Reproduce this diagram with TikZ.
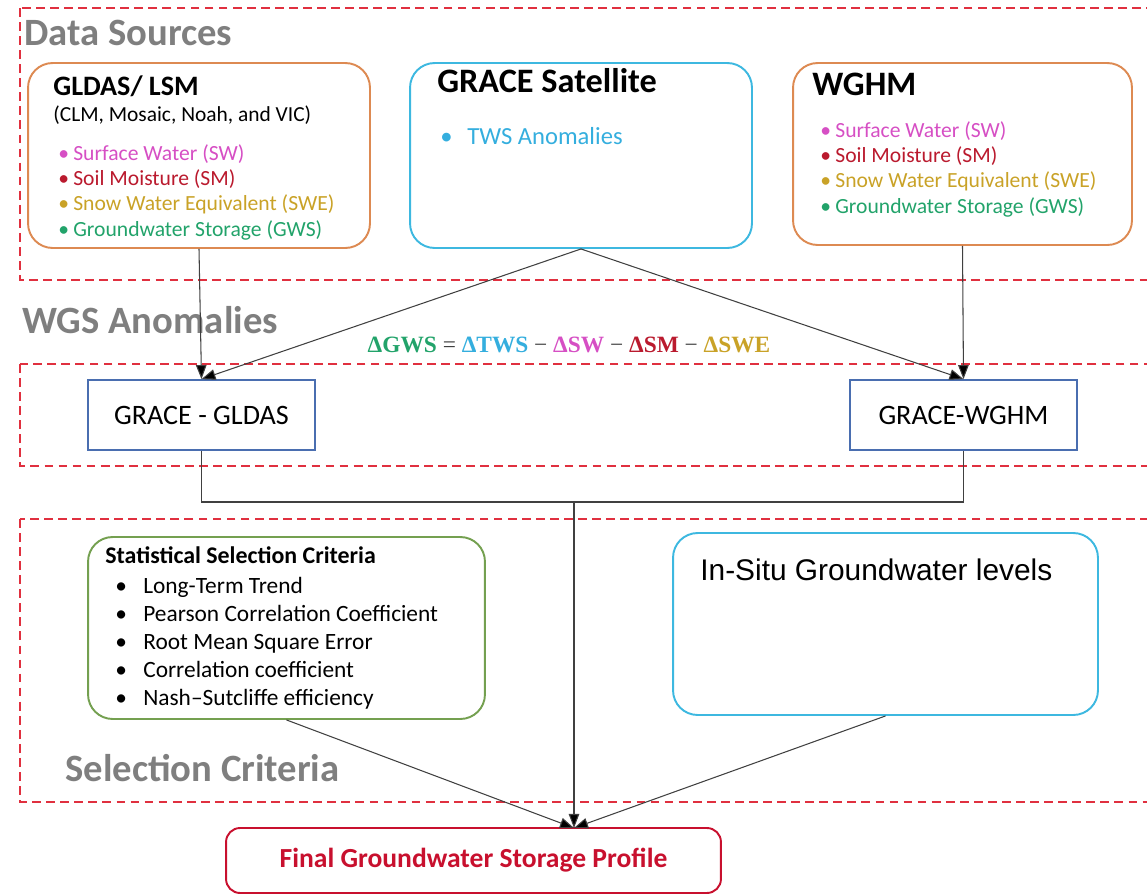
\documentclass[tikz,border=0pt]{standalone}
\usepackage{fontspec}
\setmainfont{Carlito}
\newfontfamily\arialfont{Liberation Sans}
\newfontfamily\eqfont{Liberation Serif}
\usepackage{amsmath}
\usetikzlibrary{shapes, arrows.meta, positioning}
\definecolor{dashred}{HTML}{E0303F}
\definecolor{labelgray}{HTML}{7F7F7F}
\definecolor{orng}{HTML}{DD8A52}
\definecolor{skyb}{HTML}{3DB8E0}
\definecolor{boxblue}{HTML}{4A6EB0}
\definecolor{grn}{HTML}{74A050}
\definecolor{finred}{HTML}{C8102E}
\definecolor{linegray}{HTML}{404040}
\definecolor{cSW}{HTML}{D64FC4}
\definecolor{cSM}{HTML}{BA1A2E}
\definecolor{cSWE}{HTML}{C9A227}
\definecolor{cGWS}{HTML}{22A36A}
\definecolor{cTWS}{HTML}{34AEDE}
\newcommand{\bul}[1]{\makebox[#1][l]{\textbullet}}
\newcommand{\dq}[2]{\textcolor{#1}{\bfseries Δ#2}}
\tikzstyle{zone} = [draw=dashred, line width=1.1pt, dash pattern=on 5pt off 3pt]
\tikzstyle{zlabel} = [anchor=base west, inner sep=0pt, text=labelgray, font=\fontsize{22}{24}\selectfont\bfseries]
\tikzstyle{src} = [rectangle, draw, line width=1.1pt, rounded corners=14pt]
\tikzstyle{diff} = [rectangle, draw=boxblue, line width=1pt, minimum width=4.54cm, minimum height=1.4cm, font=\fontsize{16}{18}\selectfont]
\tikzstyle{txt} = [anchor=base west, inner sep=0pt, align=left]
\tikzstyle{line} = [draw=linegray, line width=0.6pt, -{Triangle[length=8pt, width=6pt, fill=black]}]
\tikzstyle{link} = [draw=linegray, line width=0.6pt]

\begin{document}
\begin{tikzpicture}[x=0.02cm, y=-0.02cm]
  \useasboundingbox (0,0) rectangle (1147,896);
  \clip (0,0) rectangle (1147,896);
  % dashed zones
  \draw[zone] (20,8) rectangle (1180,280);
  \draw[zone] (20,364) rectangle (1180,466);
  \draw[zone] (20,519) rectangle (1180,802);
  \node (l1) [zlabel] at (24,45) {Data Sources};
  \node (l2) [zlabel] at (22,333) {WGS Anomalies};
  \node (l3) [zlabel] at (65,781) {Selection Criteria};

  % data sources
  \node (s1) [src, draw=orng, minimum width=6.84cm, minimum height=3.7cm] at (199,155.5) {};
  \node (s2) [src, draw=skyb, minimum width=6.84cm, minimum height=3.7cm] at (581,155.5) {};
  \node (s3) [src, draw=orng, minimum width=6.78cm, minimum height=3.64cm] at (962.5,154) {};
  \node (s1t) [txt, font=\fontsize{16}{18}\selectfont\bfseries] at (53,95) {GLDAS/ LSM};
  \node (s1s) [txt, font=\fontsize{12.2}{14}\selectfont] at (53,121) {(CLM, Mosaic, Noah, and VIC)};
  \node (s1l) [txt, font=\fontsize{12.3}{14.3}\selectfont] at (58,236) {%
    \textcolor{cSW}{\bul{0.3cm}Surface Water (SW)}\\
    \textcolor{cSM}{\bul{0.3cm}Soil Moisture (SM)}\\
    \textcolor{cSWE}{\bul{0.3cm}Snow Water Equivalent (SWE)}\\
    \textcolor{cGWS}{\bul{0.3cm}Groundwater Storage (GWS)}};
  \node (s2t) [txt, font=\fontsize{19.5}{22}\selectfont\bfseries] at (437,92) {GRACE Satellite};
  \node (s2l) [txt, font=\fontsize{14}{16}\selectfont, text=cTWS] at (440,144) {\bul{0.54cm}TWS Anomalies};
  \node (s3t) [txt, font=\fontsize{19.5}{22}\selectfont\bfseries] at (812,95) {WGHM};
  \node (s3l) [txt, font=\fontsize{12.3}{14.3}\selectfont] at (820,213) {%
    \textcolor{cSW}{\bul{0.3cm}Surface Water (SW)}\\
    \textcolor{cSM}{\bul{0.3cm}Soil Moisture (SM)}\\
    \textcolor{cSWE}{\bul{0.3cm}Snow Water Equivalent (SWE)}\\
    \textcolor{cGWS}{\bul{0.3cm}Groundwater Storage (GWS)}};

  % anomalies
  \node (eq) [anchor=base, text=linegray, font=\fontsize{13.3}{16}\selectfont\eqfont] at (569,352)
    {\dq{cGWS}{GWS} = \dq{cTWS}{TWS} − \dq{cSW}{SW} − \dq{cSM}{SM} − \dq{cSWE}{SWE}};
  \node (a1) [diff] at (201.5,415) {GRACE - GLDAS};
  \node (a2) [diff] at (963.5,415) {GRACE-WGHM};

  % selection criteria
  \node (c1) [src, draw=grn, minimum width=7.94cm, minimum height=3.64cm] at (286.5,628) {};
  \node (c2) [src, draw=skyb, minimum width=8.5cm, minimum height=3.64cm] at (885.5,624) {};
  \node (c1t) [txt, font=\fontsize{13.6}{15}\selectfont\bfseries] at (105,563) {Statistical Selection Criteria};
  \node (c1l) [txt, font=\fontsize{13.3}{15.9}\selectfont] at (115,705) {%
    \bul{0.56cm}Long-Term Trend\\
    \bul{0.56cm}Pearson Correlation Coefficient\\
    \bul{0.56cm}Root Mean Square Error\\
    \bul{0.56cm}Correlation coefficient\\
    \bul{0.56cm}Nash--Sutcliffe efficiency};
  \node (c2t) [txt, font=\fontsize{17}{20}\selectfont\arialfont] at (700,580) {In-Situ Groundwater levels};

  \node (f) [src, draw=finred, rounded corners=8pt, minimum width=9.9cm, minimum height=1.3cm,
    text=finred, font=\fontsize{15.7}{20}\selectfont\bfseries] at (473.5,860.5) {Final Groundwater Storage Profile};

  % connectors
  \coordinate (j) at (574,502);
  \coordinate (fin) at (574,828);
  \draw[line] (s1.south) -- (a1.north);
  \draw[line] (s2.south) -- (a1.north);
  \draw[line] (s2.south) -- (a2.north);
  \draw[line] (s3.south) -- (a2.north);
  \draw[link] (a1.south) |- (j) -| (a2.south);
  \draw[line] (j) -- (fin);
  \draw[line] (c1.south) -- (fin);
  \draw[line] (c2.south) -- (fin);
\end{tikzpicture}
\end{document}
